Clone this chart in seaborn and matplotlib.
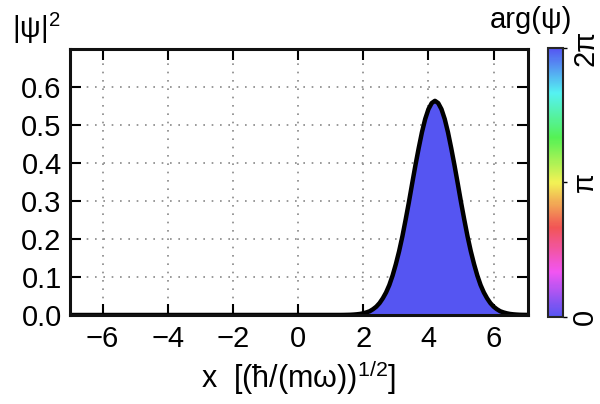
import numpy as np
import seaborn as sns
import matplotlib.pyplot as plt
import matplotlib.colors as mcolors
from matplotlib.cm import ScalarMappable

# |psi|^2 (coherent state centred near x = 4.2)
x = [-7.0, 1.3, 1.4, 1.5, 1.6, 1.7, 1.8, 1.9, 2.0, 2.1, 2.2, 2.3, 2.4, 2.5, 2.6,
     2.7, 2.8, 2.9, 3.0, 3.1, 3.2, 3.3, 3.4, 3.5, 3.6, 3.7, 3.8, 3.9, 4.0, 4.1,
     4.2, 4.3, 4.4, 4.5, 4.6, 4.7, 4.8, 4.9, 5.0, 5.1, 5.2, 5.3, 5.4, 5.5, 5.6,
     5.7, 5.8, 5.9, 6.0, 6.1, 6.2, 6.3, 6.4, 6.5, 6.6, 6.7, 6.8, 6.9, 7.05]
prob = [0.0, 0.0001, 0.0002, 0.0004, 0.0006, 0.0011, 0.0018, 0.0028, 0.0045,
        0.0069, 0.010, 0.0153, 0.022, 0.0314, 0.044, 0.0594, 0.079, 0.104,
        0.134, 0.168, 0.207, 0.251, 0.297, 0.346, 0.394, 0.439, 0.481, 0.516,
        0.542, 0.558, 0.564, 0.558, 0.542, 0.516, 0.481, 0.439, 0.394, 0.346,
        0.297, 0.251, 0.207, 0.168, 0.134, 0.104, 0.079, 0.0594, 0.044, 0.0314,
        0.022, 0.0153, 0.010, 0.0069, 0.0045, 0.0028, 0.0018, 0.0011, 0.0006,
        0.0004, 0.0002]
phase = 0.0  # arg(psi) of the filled area

xticks = [-6, -4, -2, 0, 2, 4, 6]
yticks = [0.0, 0.1, 0.2, 0.3, 0.4, 0.5, 0.6]
cbar_ticks = [0, np.pi, 2 * np.pi]
cbar_labels = ['0', 'π', '2π']

sns.set_style('ticks')
plt.rcParams['font.family'] = ['Liberation Sans', 'DejaVu Sans']
plt.rcParams['mathtext.fontset'] = 'custom'
plt.rcParams['mathtext.rm'] = 'Liberation Sans'
plt.rcParams['mathtext.it'] = 'Liberation Sans'
plt.rcParams['text.color'] = 'black'
plt.rcParams['axes.labelcolor'] = 'black'

# phase colour wheel: blue -> magenta -> red -> yellow -> green -> cyan -> blue
hues = (2 / 3 + np.linspace(0, 1, 256)) % 1.0
hsv = np.stack([hues, np.full(256, 0.65), np.full(256, 0.95)], axis=1)
phase_cmap = mcolors.ListedColormap(mcolors.hsv_to_rgb(hsv))
norm = mcolors.Normalize(0, 2 * np.pi)

fig = plt.figure(figsize=(6, 4.04), dpi=100)
ax = fig.add_axes([0.1167, 0.2203, 0.763, 0.658])

ax.fill_between(x, 0, prob, color=phase_cmap(norm(phase)), lw=0)
sns.lineplot(x=x, y=prob, ax=ax, color='black', lw=3.2, sort=False,
             solid_joinstyle='round', solid_capstyle='round')

ax.set_xlim(-7, 7.05)
ax.set_ylim(0, 0.70)
ax.set_xticks(xticks)
ax.set_xticklabels(['−6', '−4', '−2', '0', '2', '4', '6'])
ax.set_yticks(yticks)
ax.set_yticklabels([f'{v:.1f}' for v in yticks])
ax.grid(True, linestyle=(0, (1, 4)), color='#888888', lw=1.2)
ax.tick_params(direction='in', length=8, width=1.5, top=True, right=True,
               labelsize=21, pad=6, colors='black')
ax.tick_params(axis='x', pad=7)
for s in ax.spines.values():
    s.set_linewidth(2.2)
    s.set_color('#111111')

ax.set_xlabel(r'x  [(ħ/(mω))$^{1/2}$]', fontsize=22, labelpad=4)
fig.text(0.02, 0.885, r'|ψ|$^2$', fontsize=21, ha='left', va='bottom')

cax = fig.add_axes([0.913, 0.2153, 0.025, 0.666])
cb = fig.colorbar(ScalarMappable(norm=norm, cmap=phase_cmap), cax=cax)
cb.set_ticks(cbar_ticks)
cb.set_ticklabels(cbar_labels)
cb.outline.set_linewidth(1.5)
cax.tick_params(length=3, width=1, labelsize=21, pad=3, colors='black')
for lab in cax.get_yticklabels():
    lab.set_rotation(90)
    lab.set_va('center')
fig.text(0.885, 0.915, 'arg(ψ)', fontsize=21, ha='center', va='bottom')

fig.savefig('out.png', dpi=100)
